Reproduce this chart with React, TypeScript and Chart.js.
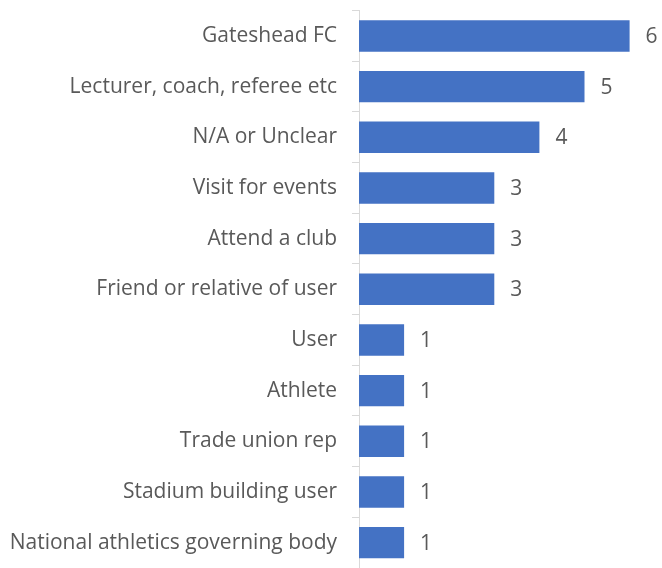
import React, { useEffect, useRef } from "react";
import { Chart, registerables } from "chart.js";

Chart.register(...registerables);

const categories = [
  "Gateshead FC",
  "Lecturer, coach, referee etc",
  "N/A or Unclear",
  "Visit for events",
  "Attend a club",
  "Friend or relative of user",
  "User",
  "Athlete",
  "Trade union rep",
  "Stadium building user",
  "National athletics governing body",
];
const values = [6, 5, 4, 3, 3, 3, 1, 1, 1, 1, 1];

const FONT = "'Open Sans', sans-serif";
const TEXT_COLOR = "#595959";
const FONT_SIZE = 21;

const valueLabels = {
  id: "valueLabels",
  afterDatasetsDraw(chart: any) {
    const ctx = chart.ctx;
    const meta = chart.getDatasetMeta(0);
    ctx.save();
    ctx.font = `${FONT_SIZE}px ${FONT}`;
    ctx.fillStyle = TEXT_COLOR;
    ctx.textAlign = "left";
    ctx.textBaseline = "middle";
    meta.data.forEach((bar: any, i: number) => {
      ctx.fillText(String(chart.data.datasets[0].data[i]), bar.x + 16, bar.y + 1);
    });
    ctx.restore();
  },
};

export default function App() {
  const ref = useRef<HTMLCanvasElement | null>(null);
  useEffect(() => {
    if (!ref.current) return;
    const chart = new Chart(ref.current, {
      type: "bar",
      data: {
        labels: categories,
        datasets: [
          {
            data: values,
            backgroundColor: "#4472C4",
            borderColor: "#4472C4",
            borderWidth: 0,
            categoryPercentage: 1,
            barPercentage: 0.62,
          },
        ],
      },
      options: {
        indexAxis: "y",
        responsive: false,
        animation: false,
        layout: { padding: { top: 10.6, bottom: -1.4, right: 0, left: 0 } },
        plugins: {
          legend: { display: false },
          tooltip: { enabled: false },
        },
        scales: {
          x: {
            display: false,
            min: 0,
            max: 303 / 45.1,
          },
          y: {
            offset: true,
            afterFit: (scale: any) => {
              scale.width = 359;
              scale.paddingTop = 0;
              scale.paddingBottom = 0;
            },
            grid: {
              display: true,
              offset: true,
              drawOnChartArea: false,
              tickLength: 7,
              color: "#D9D9D9",
            },
            border: { display: true, color: "#D9D9D9", width: 1 },
            ticks: {
              color: TEXT_COLOR,
              padding: 15,
              font: { family: FONT, size: FONT_SIZE },
              autoSkip: false,
            },
          },
        },
      },
      plugins: [valueLabels],
    });
    return () => chart.destroy();
  }, []);
  return (
    <div style={{ position: "fixed", left: 0, top: 0, width: 662, height: 568, background: "#fff" }}>
      <canvas ref={ref} width={662} height={568} />
    </div>
  );
}
